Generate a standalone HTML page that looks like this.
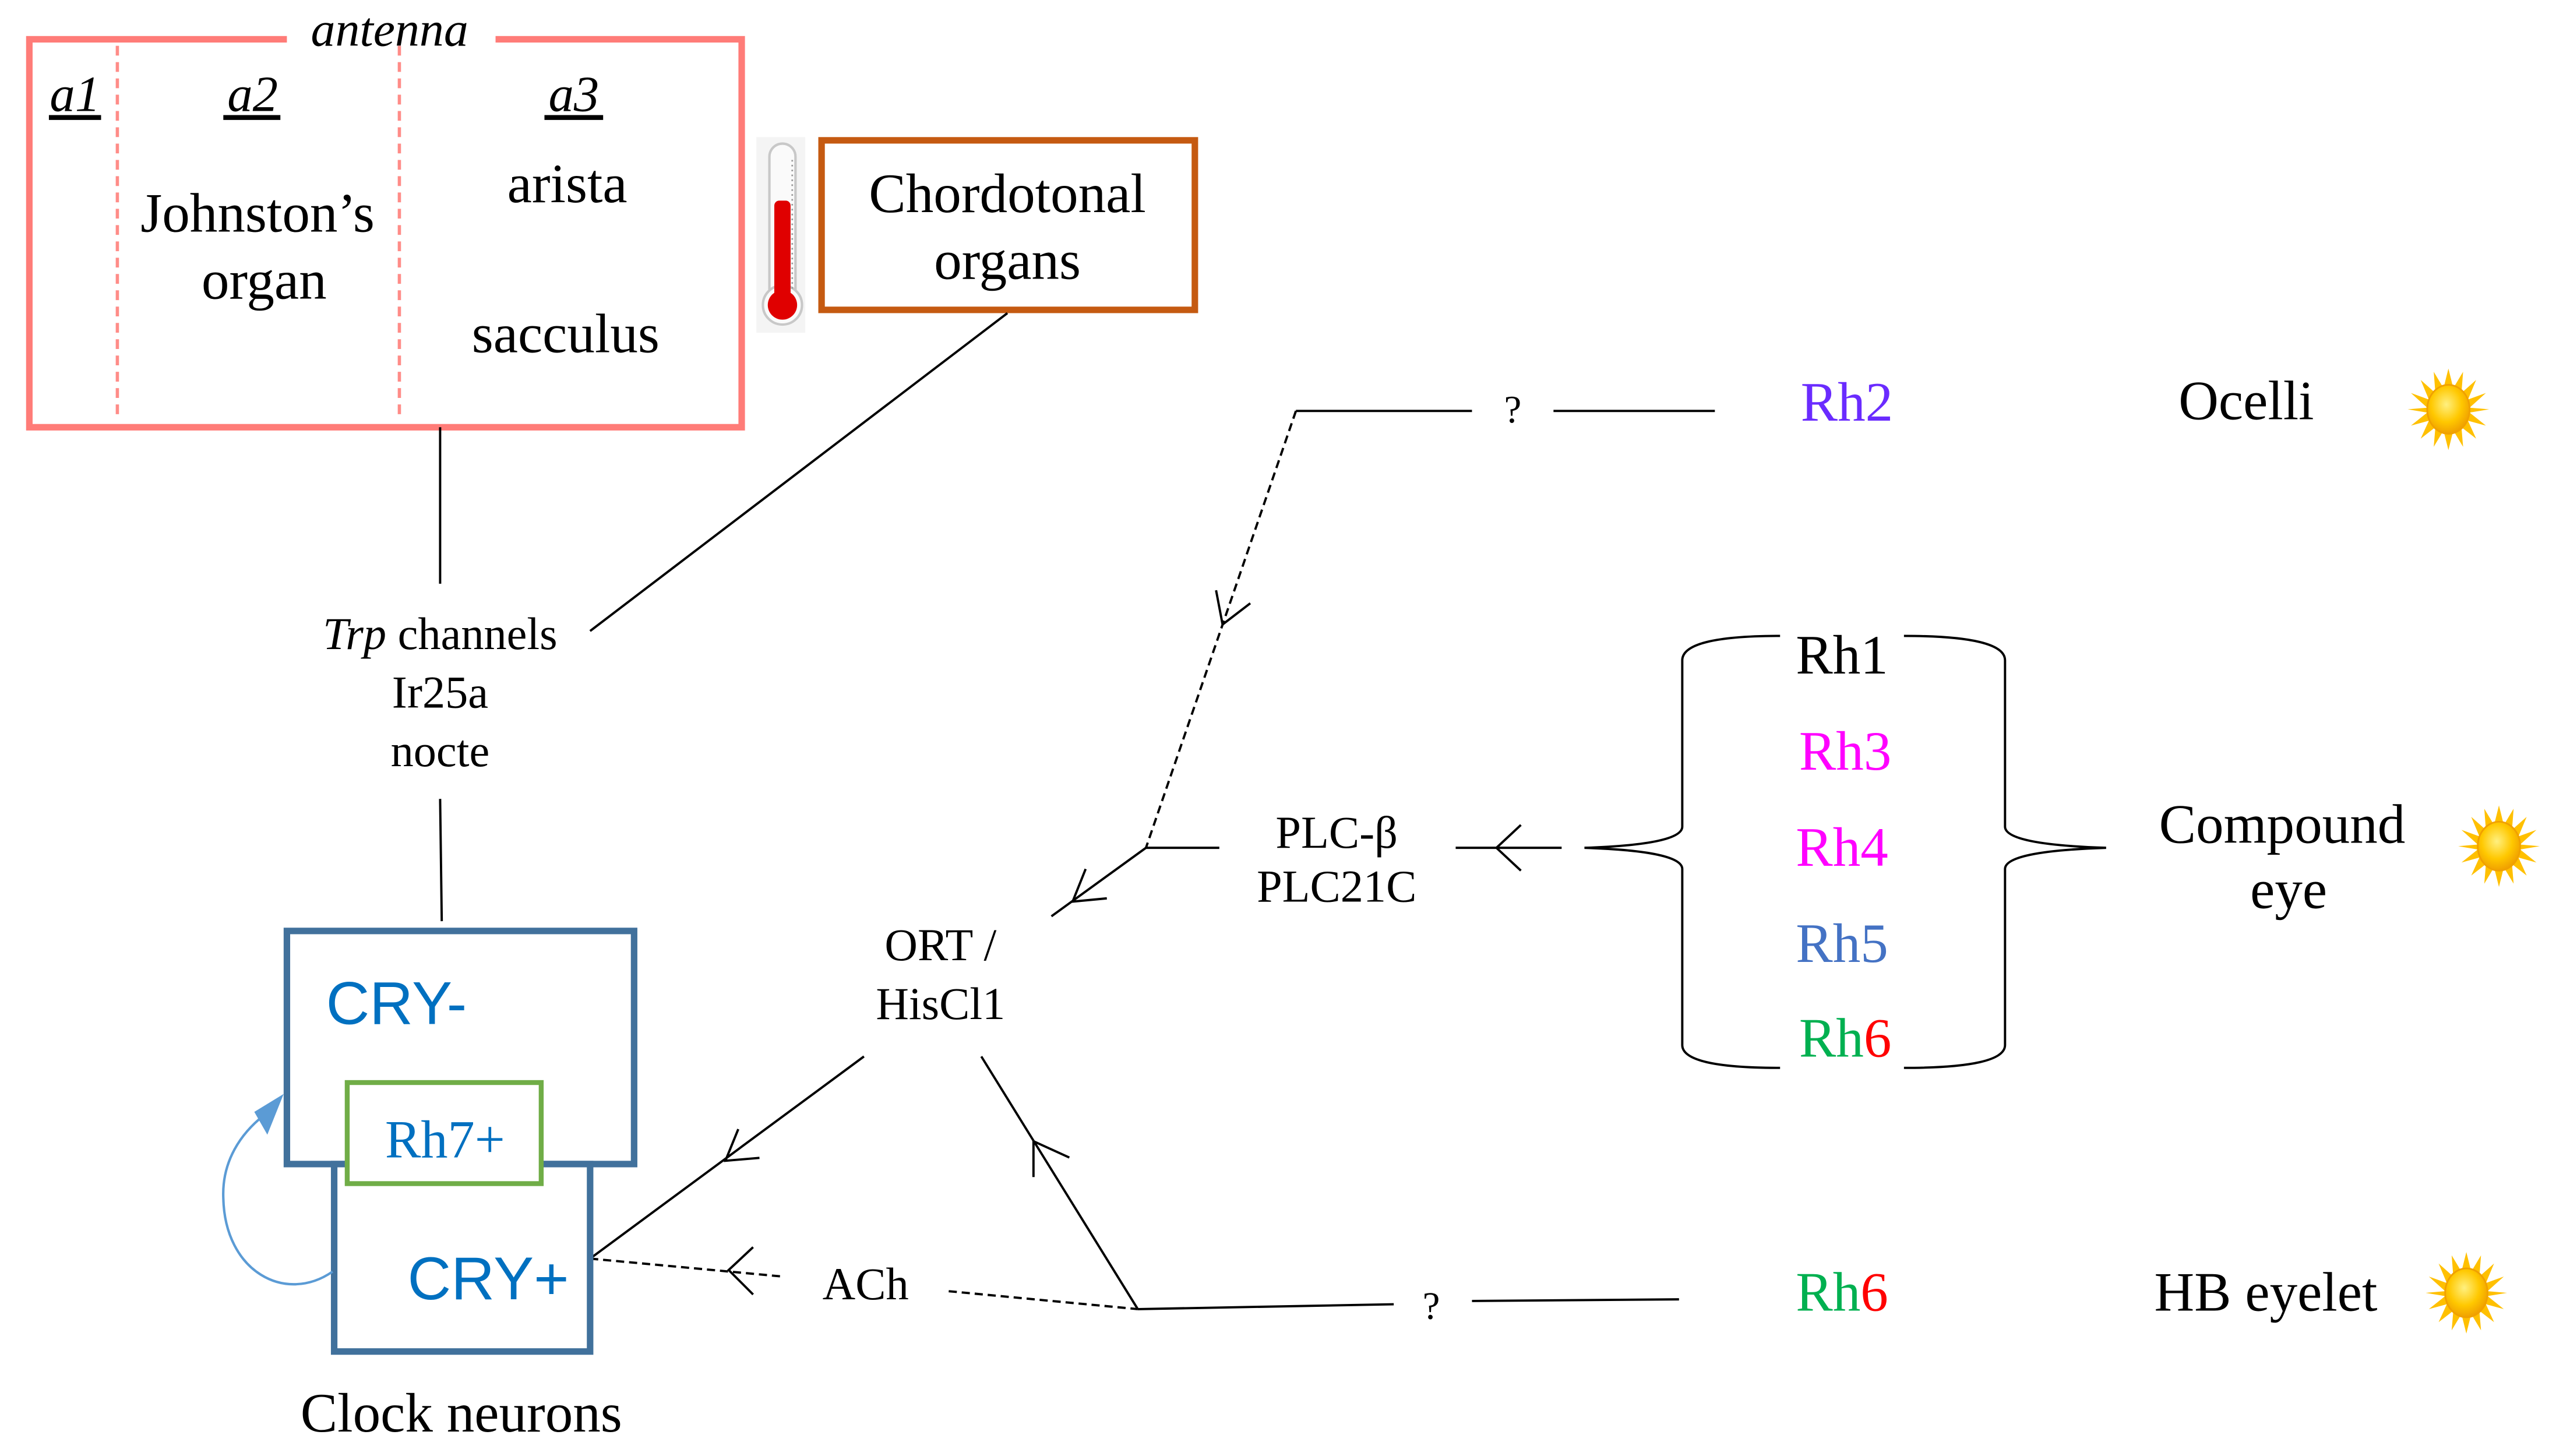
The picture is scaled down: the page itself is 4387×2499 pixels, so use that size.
<!DOCTYPE html>
<html><head><meta charset="utf-8"><style>html,body{margin:0;padding:0;background:#fff}svg{display:block}</style></head>
<body>
<svg width="4387" height="2499" viewBox="0 0 1568 893" xmlns="http://www.w3.org/2000/svg" font-family="'Liberation Serif', serif">
<defs>
<radialGradient id="sg" cx="0.45" cy="0.4" r="0.6"><stop offset="0" stop-color="#FFF080"/><stop offset="0.6" stop-color="#FFC800"/><stop offset="1" stop-color="#F0A000"/></radialGradient>
<g id="sun">
<polygon fill="#FFC000" points="0,-25 3,-13 9,-23 8,-10 17,-18 12,-6 23,-10 13,-1 25,0 13,2 23,10 12,7 17,18 8,11 9,23 3,13 0,25 -3,13 -9,23 -8,11 -17,18 -12,7 -23,10 -13,2 -25,0 -13,-1 -23,-10 -12,-6 -17,-18 -8,-10 -9,-23 -3,-13"/>
<ellipse rx="13" ry="15" fill="url(#sg)" stroke="#F0A000" stroke-width="1"/>
</g>
</defs>
<rect width="1568" height="893" fill="#fff"/>

<!-- antenna box -->
<rect x="18" y="24" width="437" height="238" fill="none" stroke="#FF7C78" stroke-width="4"/>
<rect x="176" y="14" width="128" height="18" fill="#fff"/>
<text x="239" y="28" font-size="30" font-style="italic" text-anchor="middle">antenna</text>
<line x1="72" y1="28" x2="72" y2="258" stroke="#FF8C88" stroke-width="2" stroke-dasharray="6,4"/>
<line x1="245" y1="28" x2="245" y2="258" stroke="#FF8C88" stroke-width="2" stroke-dasharray="6,4"/>
<g font-size="31" font-style="italic" text-anchor="middle">
<text x="46" y="68">a1</text><text x="155" y="68">a2</text><text x="352" y="68">a3</text>
</g>
<line x1="30" y1="72" x2="62" y2="72" stroke="#000" stroke-width="3"/>
<line x1="137" y1="72" x2="172" y2="72" stroke="#000" stroke-width="3"/>
<line x1="334" y1="72" x2="370" y2="72" stroke="#000" stroke-width="3"/>
<g font-size="34" text-anchor="middle">
<text x="158" y="142">Johnston’s</text><text x="162" y="183">organ</text>
<text x="348" y="124">arista</text><text x="347" y="216">sacculus</text>
</g>

<!-- thermometer -->
<rect x="464" y="84" width="30" height="120" fill="#f4f4f4"/>
<rect x="472" y="88" width="16" height="105" rx="8" fill="#fafafa" stroke="#c8c8c8" stroke-width="1.5"/>
<circle cx="480" cy="187" r="12" fill="#fafafa" stroke="#c8c8c8" stroke-width="1.5"/>
<rect x="475" y="123" width="10" height="65" rx="3" fill="#E00000"/>
<circle cx="480" cy="187" r="9" fill="#E00000"/>
<line x1="486" y1="98" x2="486" y2="178" stroke="#999" stroke-width="1" stroke-dasharray="1,2"/>

<!-- chordotonal -->
<rect x="504" y="86" width="229" height="104" fill="none" stroke="#C55A11" stroke-width="4"/>
<text x="618" y="130" font-size="34" text-anchor="middle">Chordotonal</text>
<text x="618" y="171" font-size="34" text-anchor="middle">organs</text>

<g stroke="#000" stroke-width="1.4" fill="none">
<line x1="270" y1="262" x2="270" y2="358"/>
<line x1="618" y1="192" x2="362" y2="387"/>
<line x1="270" y1="490" x2="271" y2="565"/>
<!-- ORT to clock -->
<line x1="530" y1="648" x2="362" y2="772"/>
<polyline points="465.9,710.2 445,712 452.9,692.6"/>
<!-- ACh -->
<line x1="362" y1="772" x2="480" y2="783" stroke-dasharray="5,3"/>
<polyline points="462,765 447,779 462,794"/>
<line x1="582" y1="792" x2="698" y2="803" stroke-dasharray="5,3"/>
<!-- up to ORT -->
<line x1="698" y1="803" x2="602" y2="648"/>
<polyline points="656,710 634,700 634,722"/>
<line x1="698" y1="803" x2="855" y2="800"/>
<line x1="903" y1="798" x2="1030" y2="797"/>
<!-- top -->
<line x1="795" y1="252" x2="903" y2="252"/>
<line x1="953" y1="252" x2="1052" y2="252"/>
<line x1="795" y1="252" x2="703" y2="520" stroke-dasharray="5,3"/>
<polyline points="767,370 750,383 746,362"/>
<line x1="703" y1="520" x2="748" y2="520"/>
<line x1="703" y1="520" x2="645" y2="562"/>
<polyline points="679,551 658,553 666,533"/>
<line x1="893" y1="520" x2="958" y2="520"/>
<polyline points="933,506 918,520 933,534"/>
<!-- braces -->
<path d="M1092,390 Q1032,390 1032,405 L1032,507 Q1032,518 972,520 Q1032,522 1032,533 L1032,641 Q1032,655 1092,655"/>
<path d="M1168,390 Q1230,390 1230,405 L1230,507 Q1230,518 1292,520 Q1230,522 1230,533 L1230,641 Q1230,655 1168,655"/>
</g>

<!-- clock neurons -->
<rect x="176" y="571" width="213" height="143" fill="#fff" stroke="#41719C" stroke-width="4"/>
<rect x="205" y="714" width="157" height="115" fill="#fff" stroke="#41719C" stroke-width="4"/>
<rect x="213" y="664" width="119" height="62" fill="#fff" stroke="#70AD47" stroke-width="3"/>
<text x="200" y="628" font-size="37" fill="#0070C0" font-family="'Liberation Sans', sans-serif">CRY-</text>
<text x="250" y="797" font-size="37" fill="#0070C0" font-family="'Liberation Sans', sans-serif">CRY+</text>
<text x="273" y="710" font-size="33" fill="#0070C0" text-anchor="middle">Rh7+</text>
<path d="M204,780 C175,800 138,780 137,735 C136,712 148,695 162,684" fill="none" stroke="#5B9BD5" stroke-width="1.5"/>
<polygon points="174,671 156,682 164,696" fill="#5B9BD5"/>
<text x="283" y="878" font-size="34" text-anchor="middle">Clock neurons</text>

<g font-size="28" text-anchor="middle">
<text x="270" y="398"><tspan font-style="italic">Trp</tspan> channels</text>
<text x="270" y="434">Ir25a</text>
<text x="270" y="470">nocte</text>
<text x="577" y="589">ORT /</text>
<text x="577" y="625">HisCl1</text>
<text x="820" y="520">PLC-β</text>
<text x="820" y="553">PLC21C</text>
<text x="531" y="797">ACh</text>
<text x="928" y="259" font-size="24">?</text>
<text x="878" y="809" font-size="24">?</text>
</g>

<g font-size="34" text-anchor="middle">
<text x="1133" y="258" fill="#6A2BFF">Rh2</text>
<text x="1130" y="413" fill="#000">Rh1</text>
<text x="1132" y="472" fill="#FF00FF">Rh3</text>
<text x="1130" y="531" fill="#FF00FF">Rh4</text>
<text x="1130" y="590" fill="#4472C4">Rh5</text>
<text x="1132" y="648"><tspan fill="#00B050">Rh</tspan><tspan fill="#FF0000">6</tspan></text>
<text x="1130" y="804"><tspan fill="#00B050">Rh</tspan><tspan fill="#FF0000">6</tspan></text>
<text x="1378" y="257">Ocelli</text>
<text x="1400" y="517">Compound</text>
<text x="1404" y="557">eye</text>
<text x="1390" y="804">HB eyelet</text>
</g>
<use href="#sun" x="1502" y="251"/>
<use href="#sun" x="1533" y="519"/>
<use href="#sun" x="1513" y="793"/>
</svg>
</body></html>
